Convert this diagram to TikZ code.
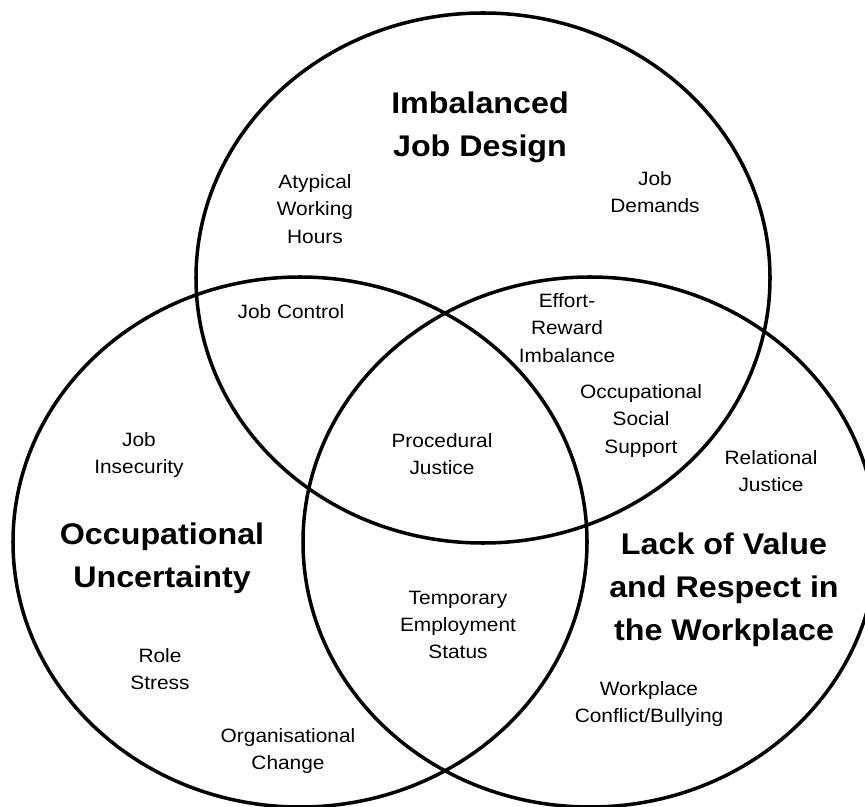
\documentclass[tikz,border=0pt]{standalone}
\usepackage{fontspec}
\setmainfont[FakeStretch=1.08]{Liberation Sans}

\begin{document}
\begin{tikzpicture}[x=0.02cm, y=-0.02cm,
    ring/.style={line width=2pt, black},
    factor/.style={align=center, inner sep=0pt, font=\fontsize{11}{15.5}\selectfont},
    heading/.style={align=center, inner sep=0pt, font=\fontsize{17}{24.5}\selectfont\bfseries}]
    \useasboundingbox (0, 0) rectangle (865, 807);

    \coordinate (T) at (483, 278);
    \coordinate (L) at (300, 542);
    \coordinate (R) at (590, 542);

    \draw[ring] (T) ellipse [x radius=287, y radius=265];
    \draw[ring] (L) ellipse [x radius=287, y radius=265];
    \draw[ring] (R) ellipse [x radius=287, y radius=265];

    \node[heading] (design) at (480, 127) {Imbalanced\\Job Design};
    \node[heading] (uncert) at (162, 558) {Occupational\\Uncertainty};
    \node[heading] (value) at (724, 590) {Lack of Value\\and Respect in\\the Workplace};

    \node[factor] (hours) at (315, 209) {Atypical\\Working\\Hours};
    \node[factor] (demands) at (655, 192) {Job\\Demands};
    \node[factor] (control) at (291, 312) {Job Control};
    \node[factor] (effort) at (567, 328) {Effort-\\Reward\\Imbalance};
    \node[factor] (support) at (641, 421) {Occupational\\Social\\Support};
    \node[factor] (procedural) at (442, 454) {Procedural\\Justice};
    \node[factor] (insecurity) at (139, 455) {Job\\Insecurity};
    \node[factor] (relational) at (771, 471) {Relational\\Justice};
    \node[factor] (temporary) at (458, 625) {Temporary\\Employment\\Status};
    \node[factor] (role) at (160, 669) {Role\\Stress};
    \node[factor] (conflict) at (649, 704) {Workplace\\Conflict/Bullying};
    \node[factor] (change) at (288, 751) {Organisational\\Change};
\end{tikzpicture}
\end{document}
